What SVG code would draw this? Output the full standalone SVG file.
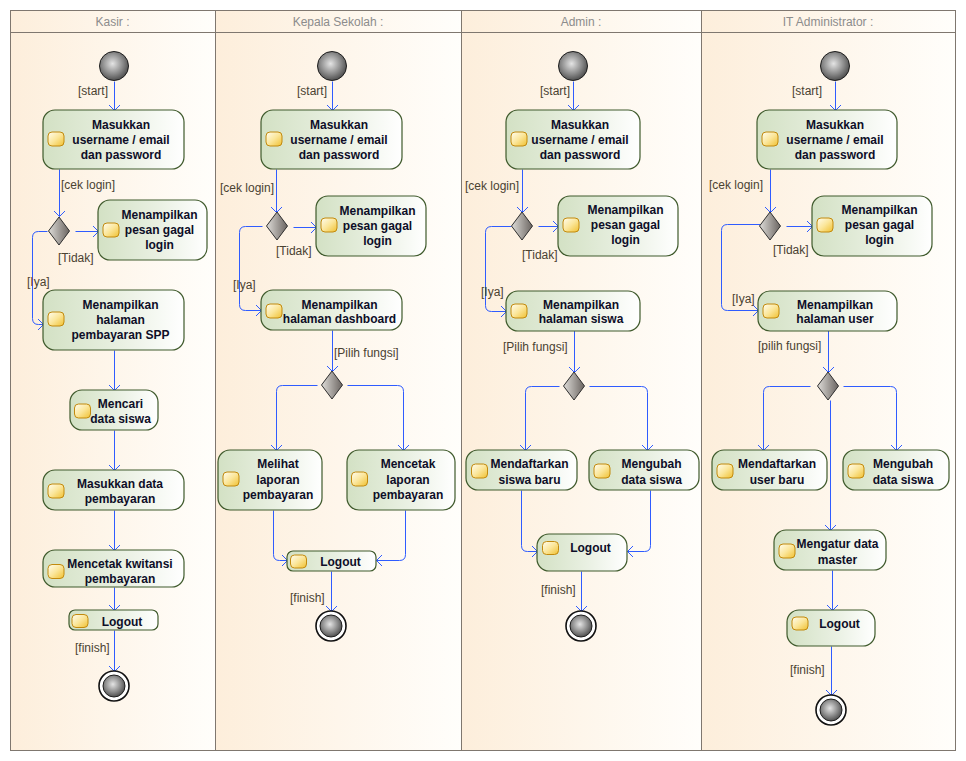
<svg xmlns="http://www.w3.org/2000/svg" width="966" height="761" viewBox="0 0 966 761">
<defs>
<linearGradient id="lane" x1="0" y1="0" x2="1" y2="0">
<stop offset="0" stop-color="#fdeedb"/><stop offset="1" stop-color="#fffefb"/>
</linearGradient>
<linearGradient id="act" x1="0" y1="0" x2="1" y2="0">
<stop offset="0" stop-color="#d3e1c4"/><stop offset="0.55" stop-color="#e9f0e2"/><stop offset="1" stop-color="#ffffff"/>
</linearGradient>
<linearGradient id="ico" x1="0" y1="0" x2="1" y2="1">
<stop offset="0" stop-color="#fffdf0"/><stop offset="0.5" stop-color="#fbe69a"/><stop offset="1" stop-color="#f0c030"/>
</linearGradient>
<radialGradient id="ball" cx="0.45" cy="0.42" r="0.6">
<stop offset="0" stop-color="#e4e4e4"/><stop offset="0.6" stop-color="#8a8a8a"/><stop offset="1" stop-color="#4a4a4a"/>
</radialGradient>
<linearGradient id="dia" x1="0" y1="0" x2="1" y2="0">
<stop offset="0" stop-color="#dedcd8"/><stop offset="1" stop-color="#6a6460"/>
</linearGradient>
<marker id="arr" viewBox="0 0 6 12" refX="5.5" refY="6" markerWidth="6" markerHeight="12" markerUnits="userSpaceOnUse" orient="auto">
<path d="M0,0.5 L5.5,6 L0,11.5" fill="none" stroke="#2f5cff" stroke-width="1"/>
</marker>
</defs>
<style>
.lane{fill:url(#lane);stroke:#7f776f;stroke-width:1}
.hdr{font-family:"Liberation Sans",Arial,sans-serif;font-size:12px;fill:#8c8c8c;text-anchor:middle}
.act{fill:url(#act);stroke:#3f5a2c;stroke-width:1.2}
.ico{fill:url(#ico);stroke:#c28a0e;stroke-width:1}
.t{font-family:"Liberation Sans",Arial,sans-serif;font-size:12px;font-weight:bold;fill:#0e0e28;text-anchor:middle}
.lbl{font-family:"Liberation Sans",Arial,sans-serif;font-size:12px;fill:#4a4232}
.c{fill:none;stroke:#2f5cff;stroke-width:1;marker-end:url(#arr)}
.start{fill:url(#ball);stroke:#1e1e1e;stroke-width:1}
.endo{fill:#ffffff;stroke:#111;stroke-width:1.6}
.dia{fill:url(#dia);stroke:#2e2e2e;stroke-width:1}
</style>
<rect width="966" height="761" fill="#ffffff"/>
<g id="lanes">
<rect class="lane" x="10.5" y="10.5" width="205" height="740"/>
<rect class="lane" x="215.5" y="10.5" width="246" height="740"/>
<rect class="lane" x="461.5" y="10.5" width="240" height="740"/>
<rect class="lane" x="701.5" y="10.5" width="254" height="740"/>
<line x1="10" y1="32.5" x2="955" y2="32.5" stroke="#7f776f" stroke-width="1"/>
<text class="hdr" x="112.5" y="26">Kasir :</text>
<text class="hdr" x="338" y="26">Kepala Sekolah :</text>
<text class="hdr" x="581" y="26">Admin :</text>
<text class="hdr" x="828" y="26">IT Administrator :</text>
</g>
<g id="connectors" transform="translate(0.5,0.5)">
<path class="c" d="M114,81 V110"/>
<path class="c" d="M59,169 V216"/>
<path class="c" d="M75,231 H98"/>
<path class="c" d="M47,231 H38 Q32,231 32,237 V318 Q32,324 38,324 H43"/>
<path class="c" d="M114,350 V390"/>
<path class="c" d="M114,430 V470"/>
<path class="c" d="M114,510 V550"/>
<path class="c" d="M114,587 V610"/>
<path class="c" d="M114,630 V671"/>
<path class="c" d="M332,81 V110"/>
<path class="c" d="M276,169 V212"/>
<path class="c" d="M293,227 H316"/>
<path class="c" d="M262,226 H245 Q239,226 239,232 V304 Q239,310 245,310 H261"/>
<path class="c" d="M332,330 V371"/>
<path class="c" d="M317,385 H282 Q276,385 276,391 V450"/>
<path class="c" d="M347,385 H397 Q403,385 403,391 V450"/>
<path class="c" d="M273,510 V554 Q273,560 279,560 H287"/>
<path class="c" d="M405,510 V554 Q405,560 399,560 H376"/>
<path class="c" d="M331,571 V611"/>
<path class="c" d="M573,81 V110"/>
<path class="c" d="M522,169 V212"/>
<path class="c" d="M538,226 H558"/>
<path class="c" d="M511,226 H491 Q485,226 485,232 V305 Q485,311 491,311 H506"/>
<path class="c" d="M574,330 V372"/>
<path class="c" d="M559,386 H531 Q525,386 525,392 V450"/>
<path class="c" d="M589,386 H641 Q647,386 647,392 V450"/>
<path class="c" d="M521,490 V545 Q521,551 527,551 H537"/>
<path class="c" d="M650,490 V545 Q650,551 644,551 H627"/>
<path class="c" d="M581,571 V611"/>
<path class="c" d="M835,81 V110"/>
<path class="c" d="M770,169 V212"/>
<path class="c" d="M786,226 H812"/>
<path class="c" d="M760,224 H727 Q721,224 721,230 V304 Q721,310 727,310 H758"/>
<path class="c" d="M828,330 V372"/>
<path class="c" d="M810,386 H769 Q763,386 763,392 V450"/>
<path class="c" d="M843,386 H890 Q896,386 896,392 V450"/>
<path class="c" d="M830,400 V530"/>
<path class="c" d="M832,570 V610"/>
<path class="c" d="M831,646 V695"/>
</g>
<g id="labels">
<text class="lbl" x="78" y="95">[start]</text>
<text class="lbl" x="61" y="189">[cek login]</text>
<text class="lbl" x="58" y="262">[Tidak]</text>
<text class="lbl" x="27" y="286">[Iya]</text>
<text class="lbl" x="75" y="652">[finish]</text>
<text class="lbl" x="297" y="95">[start]</text>
<text class="lbl" x="220" y="191.5">[cek login]</text>
<text class="lbl" x="276" y="255">[Tidak]</text>
<text class="lbl" x="233" y="288.5">[Iya]</text>
<text class="lbl" x="334" y="357">[Pilih fungsi]</text>
<text class="lbl" x="290" y="601.5">[finish]</text>
<text class="lbl" x="540" y="95">[start]</text>
<text class="lbl" x="465" y="189.5">[cek login]</text>
<text class="lbl" x="522" y="259">[Tidak]</text>
<text class="lbl" x="481" y="295.5">[Iya]</text>
<text class="lbl" x="503" y="351">[Pilih fungsi]</text>
<text class="lbl" x="541" y="593.5">[finish]</text>
<text class="lbl" x="792" y="95">[start]</text>
<text class="lbl" x="709" y="189">[cek login]</text>
<text class="lbl" x="773" y="253.5">[Tidak]</text>
<text class="lbl" x="732" y="302.5">[Iya]</text>
<text class="lbl" x="758" y="350">[pilih fungsi]</text>
<text class="lbl" x="790" y="674">[finish]</text>
</g>
<g id="kasir-start"><circle class="start" cx="114" cy="66" r="14.5"/></g>
<g id="kasir-login"><rect class="act" x="43" y="110" width="141" height="59" rx="12"/><rect class="ico" x="48" y="132" width="16" height="14" rx="4"/><text class="t"><tspan x="121" y="128.5">Masukkan</tspan><tspan x="121" y="143.5">username / email</tspan><tspan x="121" y="158.5">dan password</tspan></text></g>
<g id="kasir-decision"><polygon class="dia" points="59,217 69.5,231 59,245 48.5,231"/></g>
<g id="kasir-gagal"><rect class="act" x="98" y="200" width="109" height="60" rx="12"/><rect class="ico" x="103" y="223" width="16" height="14" rx="4"/><text class="t"><tspan x="159.5" y="218.5">Menampilkan</tspan><tspan x="159.5" y="233.5">pesan gagal</tspan><tspan x="159.5" y="248.5">login</tspan></text></g>
<g id="kasir-halaman"><rect class="act" x="43" y="290" width="141" height="60" rx="12"/><rect class="ico" x="48" y="312" width="16" height="14" rx="4"/><text class="t"><tspan x="120.5" y="308.5">Menampilkan</tspan><tspan x="120.5" y="323.5">halaman</tspan><tspan x="120.5" y="338.5">pembayaran SPP</tspan></text></g>
<g id="kasir-cari"><rect class="act" x="70" y="390" width="88" height="40" rx="12"/><rect class="ico" x="74.5" y="404" width="16" height="14" rx="4"/><text class="t"><tspan x="120.5" y="407.5">Mencari</tspan><tspan x="120.5" y="423">data siswa</tspan></text></g>
<g id="kasir-masukkan-data"><rect class="act" x="43" y="470" width="141" height="40" rx="12"/><rect class="ico" x="48" y="484" width="16" height="14" rx="4"/><text class="t"><tspan x="120" y="487.5">Masukkan data</tspan><tspan x="120" y="502.5">pembayaran</tspan></text></g>
<g id="kasir-cetak"><rect class="act" x="43" y="550" width="141" height="37" rx="12"/><rect class="ico" x="48" y="564.5" width="16" height="14" rx="4"/><text class="t"><tspan x="120" y="568">Mencetak kwitansi</tspan><tspan x="120" y="583">pembayaran</tspan></text></g>
<g id="kasir-logout"><rect class="act" x="69" y="610" width="89" height="20" rx="6"/><rect class="ico" x="72" y="614.5" width="16" height="13" rx="4"/><text class="t" x="122" y="626">Logout</text></g>
<g id="kasir-end"><circle class="endo" cx="114" cy="686" r="15"/><circle class="start" cx="114" cy="686" r="11" stroke="none"/></g>
<g id="kepsek-start"><circle class="start" cx="332" cy="66" r="14.5"/></g>
<g id="kepsek-login"><rect class="act" x="261" y="110" width="141" height="59" rx="12"/><rect class="ico" x="266" y="132" width="16" height="14" rx="4"/><text class="t"><tspan x="339" y="128.5">Masukkan</tspan><tspan x="339" y="143.5">username / email</tspan><tspan x="339" y="158.5">dan password</tspan></text></g>
<g id="kepsek-decision"><polygon class="dia" points="277,212 287.5,226 277,240 266.5,226"/></g>
<g id="kepsek-gagal"><rect class="act" x="316" y="196" width="110" height="60" rx="12"/><rect class="ico" x="321" y="218" width="16" height="14" rx="4"/><text class="t"><tspan x="377.5" y="214.5">Menampilkan</tspan><tspan x="377.5" y="229.5">pesan gagal</tspan><tspan x="377.5" y="244.5">login</tspan></text></g>
<g id="kepsek-dashboard"><rect class="act" x="261" y="290" width="141" height="40" rx="12"/><rect class="ico" x="266" y="304" width="16" height="14" rx="4"/><text class="t"><tspan x="339.5" y="308.5">Menampilkan</tspan><tspan x="339.5" y="323">halaman dashboard</tspan></text></g>
<g id="kepsek-decision2"><polygon class="dia" points="332,371 342.5,385 332,399 321.5,385"/></g>
<g id="kepsek-lihat"><rect class="act" x="218" y="450" width="104" height="60" rx="12"/><rect class="ico" x="223" y="472" width="16" height="14" rx="4"/><text class="t"><tspan x="278" y="468">Melihat</tspan><tspan x="278" y="483.5">laporan</tspan><tspan x="278" y="498.5">pembayaran</tspan></text></g>
<g id="kepsek-cetak"><rect class="act" x="347" y="450" width="108" height="60" rx="12"/><rect class="ico" x="351.5" y="472" width="16" height="14" rx="4"/><text class="t"><tspan x="408" y="468">Mencetak</tspan><tspan x="408" y="483.5">laporan</tspan><tspan x="408" y="498.5">pembayaran</tspan></text></g>
<g id="kepsek-logout"><rect class="act" x="287" y="551" width="89" height="20" rx="6"/><rect class="ico" x="290.5" y="555" width="16" height="13" rx="4"/><text class="t" x="340.5" y="566">Logout</text></g>
<g id="kepsek-end"><circle class="endo" cx="331" cy="626" r="15"/><circle class="start" cx="331" cy="626" r="11" stroke="none"/></g>
<g id="admin-start"><circle class="start" cx="573" cy="66" r="14.5"/></g>
<g id="admin-login"><rect class="act" x="506" y="110" width="134" height="59" rx="12"/><rect class="ico" x="511" y="132" width="16" height="14" rx="4"/><text class="t"><tspan x="580" y="128.5">Masukkan</tspan><tspan x="580" y="143.5">username / email</tspan><tspan x="580" y="158.5">dan password</tspan></text></g>
<g id="admin-decision"><polygon class="dia" points="522,212 532.5,226 522,240 511.5,226"/></g>
<g id="admin-gagal"><rect class="act" x="558" y="196" width="120" height="60" rx="12"/><rect class="ico" x="563" y="218" width="16" height="14" rx="4"/><text class="t"><tspan x="625.5" y="214">Menampilkan</tspan><tspan x="625.5" y="229">pesan gagal</tspan><tspan x="625.5" y="244">login</tspan></text></g>
<g id="admin-siswa"><rect class="act" x="506" y="291" width="134" height="40" rx="12"/><rect class="ico" x="511" y="304" width="16" height="14" rx="4"/><text class="t"><tspan x="581" y="308.5">Menampilkan</tspan><tspan x="581" y="323">halaman siswa</tspan></text></g>
<g id="admin-decision2"><polygon class="dia" points="574,372 584.5,386 574,400 563.5,386"/></g>
<g id="admin-daftar"><rect class="act" x="466" y="450" width="111" height="40" rx="12"/><rect class="ico" x="471.5" y="464" width="16" height="14" rx="4"/><text class="t"><tspan x="529.5" y="468">Mendaftarkan</tspan><tspan x="529.5" y="483.5">siswa baru</tspan></text></g>
<g id="admin-ubah"><rect class="act" x="589" y="450" width="110" height="40" rx="12"/><rect class="ico" x="594" y="464" width="16" height="14" rx="4"/><text class="t"><tspan x="651.5" y="468">Mengubah</tspan><tspan x="651.5" y="483.5">data siswa</tspan></text></g>
<g id="admin-logout"><rect class="act" x="537" y="534" width="90" height="37" rx="12"/><rect class="ico" x="542.5" y="541.5" width="16" height="13" rx="4"/><text class="t" x="590.5" y="551.5">Logout</text></g>
<g id="admin-end"><circle class="endo" cx="581" cy="626" r="15"/><circle class="start" cx="581" cy="626" r="11" stroke="none"/></g>
<g id="it-start"><circle class="start" cx="835" cy="66" r="14.5"/></g>
<g id="it-login"><rect class="act" x="757" y="110" width="140" height="59" rx="12"/><rect class="ico" x="762" y="132" width="16" height="14" rx="4"/><text class="t"><tspan x="835" y="128.5">Masukkan</tspan><tspan x="835" y="143.5">username / email</tspan><tspan x="835" y="158.5">dan password</tspan></text></g>
<g id="it-decision"><polygon class="dia" points="770,212 780.5,226 770,240 759.5,226"/></g>
<g id="it-gagal"><rect class="act" x="812" y="196" width="120" height="60" rx="12"/><rect class="ico" x="817" y="218" width="16" height="14" rx="4"/><text class="t"><tspan x="879.5" y="214">Menampilkan</tspan><tspan x="879.5" y="229">pesan gagal</tspan><tspan x="879.5" y="244">login</tspan></text></g>
<g id="it-user"><rect class="act" x="758" y="291" width="139" height="40" rx="12"/><rect class="ico" x="763" y="304" width="16" height="14" rx="4"/><text class="t"><tspan x="835" y="308.5">Menampilkan</tspan><tspan x="835" y="323">halaman user</tspan></text></g>
<g id="it-decision2"><polygon class="dia" points="828,372 838.5,386 828,400 817.5,386"/></g>
<g id="it-daftar"><rect class="act" x="712" y="450" width="115" height="40" rx="12"/><rect class="ico" x="717" y="464" width="16" height="14" rx="4"/><text class="t"><tspan x="777" y="468">Mendaftarkan</tspan><tspan x="777" y="483.5">user baru</tspan></text></g>
<g id="it-ubah"><rect class="act" x="843" y="450" width="106" height="40" rx="12"/><rect class="ico" x="848" y="464" width="16" height="14" rx="4"/><text class="t"><tspan x="903" y="468">Mengubah</tspan><tspan x="903" y="483.5">data siswa</tspan></text></g>
<g id="it-master"><rect class="act" x="774" y="530" width="112" height="40" rx="12"/><rect class="ico" x="779" y="544" width="16" height="14" rx="4"/><text class="t"><tspan x="837.5" y="548">Mengatur data</tspan><tspan x="837.5" y="563.5">master</tspan></text></g>
<g id="it-logout"><rect class="act" x="787" y="610" width="88" height="36" rx="12"/><rect class="ico" x="792" y="617" width="16" height="13" rx="4"/><text class="t" x="839.5" y="627.5">Logout</text></g>
<g id="it-end"><circle class="endo" cx="831" cy="710" r="15"/><circle class="start" cx="831" cy="710" r="11" stroke="none"/></g>
</svg>
